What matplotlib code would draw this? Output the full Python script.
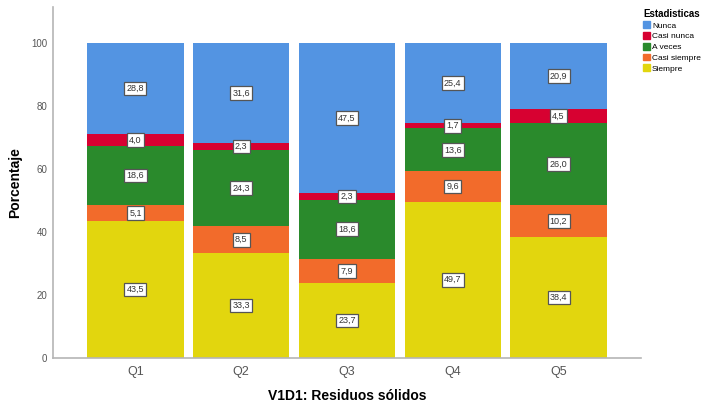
import numpy as np
import matplotlib.pyplot as plt
from matplotlib.patches import Patch

plt.rcParams["font.family"] = ["Liberation Sans", "DejaVu Sans"]

# Datos (porcentajes por categoría)
preguntas = ["Q1", "Q2", "Q3", "Q4", "Q5"]
siempre = [43.5, 33.3, 23.7, 49.7, 38.4]
casi_siempre = [5.1, 8.5, 7.9, 9.6, 10.2]
a_veces = [18.6, 24.3, 18.6, 13.6, 26.0]
casi_nunca = [4.0, 2.3, 2.3, 1.7, 4.5]
nunca = [28.8, 31.6, 47.5, 25.4, 20.9]

series = [
    ("Siempre", siempre, "#e2d60e"),
    ("Casi siempre", casi_siempre, "#f26b2b"),
    ("A veces", a_veces, "#2a8a2c"),
    ("Casi nunca", casi_nunca, "#d70131"),
    ("Nunca", nunca, "#5394e2"),
]

fig = plt.figure(figsize=(7.06, 4.08), dpi=100)
ax = fig.add_axes([0.075, 0.1225, 0.833, 0.8605])

x = np.arange(len(preguntas))
bottom = np.zeros(len(preguntas))
for nombre, vals, color in series:
    vals = np.array(vals)
    ax.bar(x, vals, width=0.91, bottom=bottom, color=color, linewidth=0)
    for xi, b, v in zip(x, bottom, vals):
        ax.text(xi, b + v / 2, f"{v:.1f}".replace(".", ","), ha="center", va="center",
                fontsize=6.5, color="#333333",
                bbox=dict(boxstyle="square,pad=0.25", fc="white", ec="#555555", lw=0.9))
    bottom += vals

ax.set_xlim(-0.78, 4.78)
ax.set_ylim(0, 111.5)
ax.set_yticks([0, 20, 40, 60, 80, 100])
ax.set_xticks(x)
ax.set_xticklabels(preguntas)
ax.tick_params(axis="both", length=0, colors="#555555")
ax.tick_params(axis="y", labelsize=7, pad=4)
ax.tick_params(axis="x", labelsize=9, pad=6)

for s in ["top", "right"]:
    ax.spines[s].set_visible(False)
for s in ["left", "bottom"]:
    ax.spines[s].set_color("#b5b5b5")
    ax.spines[s].set_linewidth(1.2)

ax.set_ylabel("Porcentaje", fontsize=10, fontweight="bold")
ax.yaxis.set_label_coords(-0.052, 0.5)
ax.set_xlabel("V1D1: Residuos sólidos", fontsize=10, fontweight="bold", labelpad=8)

handles = [Patch(color=c, label=n) for n, _, c in reversed(series)]
leg = fig.legend(handles=handles, title="Estadisticas", loc="upper left",
                 bbox_to_anchor=(0.911, 0.978), frameon=False, fontsize=6,
                 title_fontsize=7, handlelength=0.85, handleheight=0.85,
                 handletextpad=0.2, labelspacing=0.3, borderaxespad=0,
                 borderpad=0)
leg.get_title().set_fontweight("bold")
leg._legend_box.align = "left"

fig.savefig("out.png", dpi=100)
